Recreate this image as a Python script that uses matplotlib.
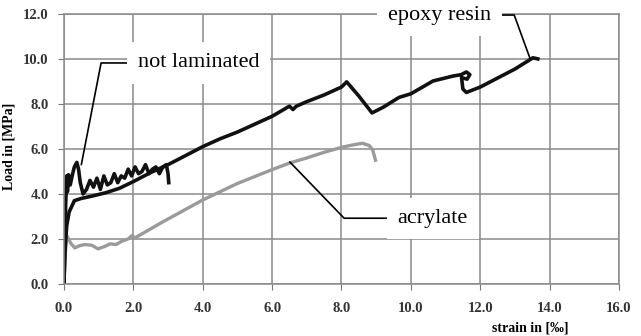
import numpy as np
import matplotlib.pyplot as plt

plt.rcParams['font.family'] = ['Liberation Serif', 'DejaVu Serif']

# Datos: deformación (‰) y carga (MPa)
epoxy_x = [0, 0.03, 0.08, 0.15, 0.3, 0.5, 0.8, 1.2, 1.6, 2.0, 2.5, 3.0, 3.5, 4.0,
           4.5, 5.0, 5.5, 6.0, 6.5, 6.6, 6.7, 7.0, 7.5, 8.0, 8.15, 8.5, 8.88,
           9.2, 9.66, 10.0, 10.64, 11.22, 11.45, 11.6, 11.7, 11.62, 11.46,
           11.5, 11.6, 12.0, 12.5, 13.0, 13.52, 13.66]
epoxy_y = [0, 1.5, 2.6, 3.2, 3.7, 3.8, 3.9, 4.05, 4.25, 4.55, 4.95, 5.3, 5.7, 6.1,
           6.45, 6.75, 7.1, 7.45, 7.9, 7.75, 7.9, 8.1, 8.4, 8.75, 8.98, 8.35, 7.6,
           7.85, 8.29, 8.45, 9.02, 9.24, 9.3, 9.42, 9.3, 9.1, 9.17,
           8.66, 8.51, 8.75, 9.15, 9.55, 10.05, 10.0]

nolam_x = [0, 0.03, 0.05, 0.08, 0.1, 0.13, 0.18, 0.25, 0.3, 0.37, 0.42, 0.47,
           0.55, 0.65, 0.75, 0.85, 0.95, 1.05, 1.15, 1.25, 1.35, 1.45, 1.55,
           1.65, 1.75, 1.85, 1.95, 2.05, 2.15, 2.25, 2.35, 2.45, 2.55, 2.65,
           2.75, 2.85, 2.95, 3.0, 3.02]
nolam_y = [0, 2.2, 3.6, 4.8, 4.1, 4.85, 4.4, 4.9, 5.2, 5.4, 5.1, 4.5,
           4.0, 4.2, 4.6, 4.3, 4.7, 4.2, 4.8, 4.4, 4.5, 4.9, 4.5,
           4.8, 4.7, 5.1, 4.8, 5.2, 4.9, 5.0, 5.3, 4.9, 5.1, 5.2,
           4.9, 5.2, 5.3, 4.9, 4.5]

acryl_x = [0, 0.02, 0.08, 0.2, 0.31, 0.45, 0.6, 0.8, 0.98, 1.15, 1.33, 1.5,
           1.67, 1.85, 1.96, 2.05, 2.84, 4.0, 4.98, 6.0, 6.5, 7.0, 7.5, 8.0,
           8.3, 8.6, 8.8, 8.9, 8.98]
acryl_y = [0, 1.0, 2.15, 1.8, 1.6, 1.7, 1.75, 1.72, 1.56, 1.65, 1.78, 1.75,
           1.9, 2.0, 2.15, 2.05, 2.75, 3.73, 4.45, 5.08, 5.37, 5.6, 5.85, 6.07,
           6.17, 6.25, 6.15, 5.95, 5.5]

x_ticks = np.arange(0, 16.1, 2.0)
y_ticks = np.arange(0, 12.1, 2.0)

fig = plt.figure(figsize=(6.41, 3.36), dpi=100)
ax = fig.add_axes([0.0998, 0.155, 0.8659, 0.8036])

ax.plot(acryl_x, acryl_y, color='#9a9a9a', lw=2.4, solid_joinstyle='round')
ax.plot(epoxy_x, epoxy_y, color='#111111', lw=2.6, solid_joinstyle='round')
ax.plot(nolam_x, nolam_y, color='#111111', lw=2.6, solid_joinstyle='round')

ax.set_xlim(0, 16)
ax.set_ylim(0, 12)
ax.set_xticks(x_ticks)
ax.set_yticks(y_ticks)
ax.set_xticklabels([f'{v:.1f}' for v in x_ticks])
ax.set_yticklabels([f'{v:.1f}' for v in y_ticks])
ax.tick_params(direction='out', length=4, color='#777777', labelsize=10.5,
               labelcolor='#333333')
ax.tick_params(axis='x', pad=9)
ax.tick_params(axis='y', pad=7)
for lab in ax.get_xticklabels() + ax.get_yticklabels():
    lab.set_fontweight('bold')
ax.grid(color='#8a8a8a', lw=1.1)
for s in ax.spines.values():
    s.set_color('#8a8a8a')
    s.set_linewidth(1.1)

ax.set_ylabel('Load in [MPa]', fontsize=10, fontweight='bold')
ax.yaxis.set_label_coords(-0.088, 0.51)
ax.set_xlabel('strain in [‰]', fontsize=10, fontweight='bold')
ax.xaxis.set_label_coords(0.84, -0.138)

caja = dict(boxstyle='square,pad=0.5', fc='white', ec='none')
ax.annotate('not laminated', xy=(0.5, 5.3), xytext=(2.13, 9.82),
            fontsize=16, ha='left', va='center', bbox=caja,
            arrowprops=dict(arrowstyle='-', color='black', lw=1.2, shrinkA=0, shrinkB=0,
                            connectionstyle='angle,angleA=0,angleB=79,rad=0'))
ax.annotate('epoxy resin', xy=(13.43, 10.04), xytext=(9.34, 11.95),
            fontsize=16, ha='left', va='center', bbox=caja,
            arrowprops=dict(arrowstyle='-', color='black', lw=1.2, shrinkA=0, shrinkB=0,
                            connectionstyle='angle,angleA=0,angleB=110,rad=0'))
ax.annotate('acrylate', xy=(6.51, 5.42), xytext=(9.62, 2.92),
            fontsize=16, ha='left', va='center', bbox=caja,
            arrowprops=dict(arrowstyle='-', color='black', lw=1.2, shrinkA=0, shrinkB=0,
                            connectionstyle='angle,angleA=0,angleB=-46,rad=0'))

plt.savefig('out.png', dpi=100)
plt.close()
